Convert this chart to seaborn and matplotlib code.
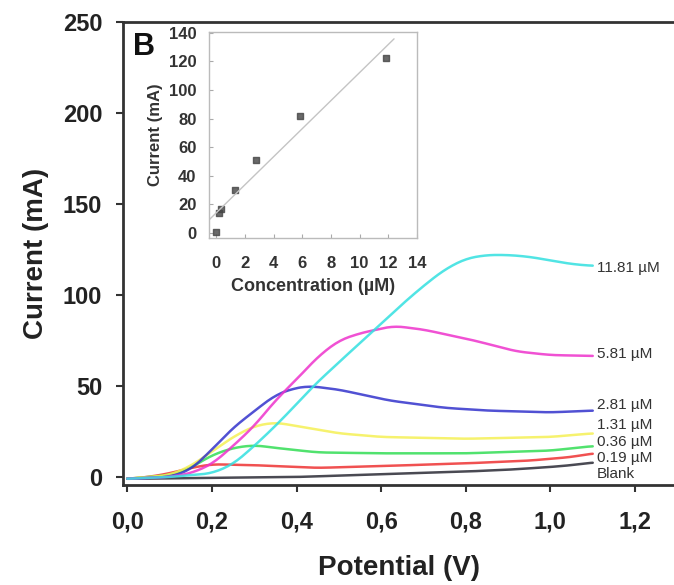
import matplotlib
matplotlib.use("Agg")
import matplotlib.pyplot as plt
import seaborn as sns
import numpy as np
import pandas as pd

sns.set_theme(style="white", context="paper")
plt.rcParams['font.family'] = ['Liberation Sans', 'DejaVu Sans']

# voltammograms: (potential V, current mA)
blank_v = [0.0, 0.2, 0.4, 0.6, 0.8, 0.9, 1.0, 1.05, 1.1]
blank_i = [-1.0, -0.5, 0.0, 1.5, 3.0, 4.0, 5.5, 6.5, 8.0]

c019_v = [0.0, 0.05, 0.1, 0.15, 0.2, 0.3, 0.45, 0.6, 0.8, 0.95, 1.05, 1.1]
c019_i = [-1.0, 0.0, 2.0, 5.0, 7.0, 6.5, 5.0, 6.0, 7.5, 9.0, 11.0, 13.0]

c036_v = [0.0, 0.1, 0.15, 0.2, 0.25, 0.3, 0.35, 0.45, 0.6, 0.8, 1.0, 1.1]
c036_i = [-1.0, 1.0, 5.0, 12.0, 16.0, 17.5, 16.0, 13.5, 13.0, 13.0, 14.5, 17.0]

c131_v = [0.0, 0.1, 0.15, 0.2, 0.25, 0.3, 0.35, 0.4, 0.5, 0.6, 0.8, 1.0, 1.1]
c131_i = [-1.0, 1.0, 6.0, 14.0, 22.0, 28.0, 30.0, 28.0, 24.0, 22.0, 21.0, 22.0, 24.0]

c281_v = [0.0, 0.1, 0.15, 0.2, 0.25, 0.31, 0.35, 0.39, 0.43, 0.5, 0.62, 0.75, 0.85, 1.0, 1.1]
c281_i = [-1.0, 0.0, 4.0, 15.0, 27.0, 38.0, 45.0, 48.5, 50.0, 48.0, 42.0, 38.0, 36.5, 35.5, 36.5]

c581_v = [0.0, 0.1, 0.15, 0.2, 0.25, 0.3, 0.35, 0.41, 0.45, 0.5, 0.55, 0.63, 0.7, 0.82, 0.92, 1.0, 1.1]
c581_i = [-1.0, 0.0, 2.0, 7.0, 17.0, 28.0, 42.0, 56.0, 66.0, 75.0, 79.0, 83.0, 81.0, 75.0, 69.0, 67.0, 66.5]

c1181_v = [0.0, 0.1, 0.2, 0.25, 0.3, 0.35, 0.4, 0.44, 0.5, 0.58, 0.65, 0.7, 0.75, 0.8, 0.85, 0.9, 0.95, 1.0, 1.05, 1.1]
c1181_i = [-1.0, 0.0, 2.0, 7.0, 17.0, 28.0, 40.0, 50.0, 63.0, 80.0, 95.0, 105.0, 114.0, 120.0, 122.0, 122.0, 121.0, 119.0, 117.0, 116.0]

series_names = ["Blank", "0.19 µM", "0.36 µM", "1.31 µM", "2.81 µM", "5.81 µM", "11.81 µM"]
series_v = [blank_v, c019_v, c036_v, c131_v, c281_v, c581_v, c1181_v]
series_i = [blank_i, c019_i, c036_i, c131_i, c281_i, c581_i, c1181_i]
series_colors = ["#2a2a35", "#ee3333", "#33dd55", "#f5f055", "#3333cc", "#ee33cc", "#33e0e0"]
label_y = [1.6, 10.5, 19.0, 28.5, 39.5, 67.5, 115.0]

# calibration (inset)
conc = [0.0, 0.19, 0.36, 1.31, 2.81, 5.81, 11.81]
peak_current = [1.0, 14.0, 17.0, 30.0, 51.0, 82.0, 122.0]

rows = []
for name, vs, cs in zip(series_names, series_v, series_i):
    for v, c in zip(vs, cs):
        rows.append({"series": name, "potential": v, "current": c})
df = pd.DataFrame(rows)

fig = plt.figure(figsize=(6.74, 5.85), dpi=100)
ax = fig.add_axes([123 / 674, 100 / 585, 551 / 674, 463 / 585])

for name, col in zip(series_names, series_colors):
    sub = df[df.series == name]
    # smooth the read points a little for drawing
    xs = np.linspace(sub.potential.min(), sub.potential.max(), 200)
    ys = np.interp(xs, sub.potential, sub.current)
    k = np.ones(9) / 9
    ys = np.convolve(np.pad(ys, 4, mode="edge"), k, mode="valid")
    sns.lineplot(x=xs, y=ys, ax=ax, color=col, linewidth=1.8, alpha=0.85)

for name, yl in zip(series_names, label_y):
    ax.text(1.11, yl, name, fontsize=11, color="#333333", va="center", ha="left")

ax.set_xlim(-0.01, 1.292)
ax.set_ylim(-4.4, 250)
ax.set_xticks([0.0, 0.2, 0.4, 0.6, 0.8, 1.0, 1.2])
ax.set_xticklabels(["0,0", "0,2", "0,4", "0,6", "0,8", "1,0", "1,2"])
ax.set_yticks([0, 50, 100, 150, 200, 250])
for lab in ax.get_xticklabels() + ax.get_yticklabels():
    lab.set_fontweight("bold")
    lab.set_fontsize(17)
    lab.set_color("#222222")
ax.tick_params(axis="both", direction="out", length=5, width=1.5, color="#333333",
               bottom=True, left=True)
ax.tick_params(axis="x", pad=13)
ax.tick_params(axis="y", pad=10)
ax.set_xlabel("Potential (V)", fontsize=20, fontweight="bold", color="#222222", labelpad=16)
ax.set_ylabel("Current (mA)", fontsize=20, fontweight="bold", color="#222222", labelpad=10)
for s in ["left", "bottom", "top"]:
    ax.spines[s].set_linewidth(2)
    ax.spines[s].set_color("#333333")
ax.spines["right"].set_visible(False)

ax.text(0.018, 0.945, "B", transform=ax.transAxes, fontsize=22, fontweight="bold",
        color="#111111", va="center")

# inset
ins = fig.add_axes([209 / 674, (585 - 238) / 585, 208 / 674, 206 / 585])
sns.regplot(x=conc, y=peak_current, ax=ins, ci=None, truncate=False, marker="s",
            scatter_kws={"s": 13, "color": "#444444"},
            line_kws={"color": "#c4c4c4", "linewidth": 1})
ins.set_xlim(-0.5, 14)
ins.set_ylim(-3.5, 140.5)
ins.set_xticks(range(0, 15, 2))
ins.set_yticks(range(0, 141, 20))
for lab in ins.get_xticklabels() + ins.get_yticklabels():
    lab.set_fontweight("bold")
    lab.set_fontsize(12)
    lab.set_color("#333333")
ins.tick_params(axis="both", direction="in", length=3, width=0.8, color="#aaaaaa",
                bottom=True, left=True)
ins.tick_params(axis="x", pad=13)
ins.tick_params(axis="y", pad=9)
ins.set_xlabel("Concentration (µM)", fontsize=13, fontweight="bold", color="#333333", labelpad=5)
ins.set_ylabel("Current (mA)", fontsize=12, fontweight="bold", color="#333333", labelpad=4)
for s in ins.spines.values():
    s.set_color("#bbbbbb")
    s.set_linewidth(1)

fig.savefig("out.png", dpi=100)
